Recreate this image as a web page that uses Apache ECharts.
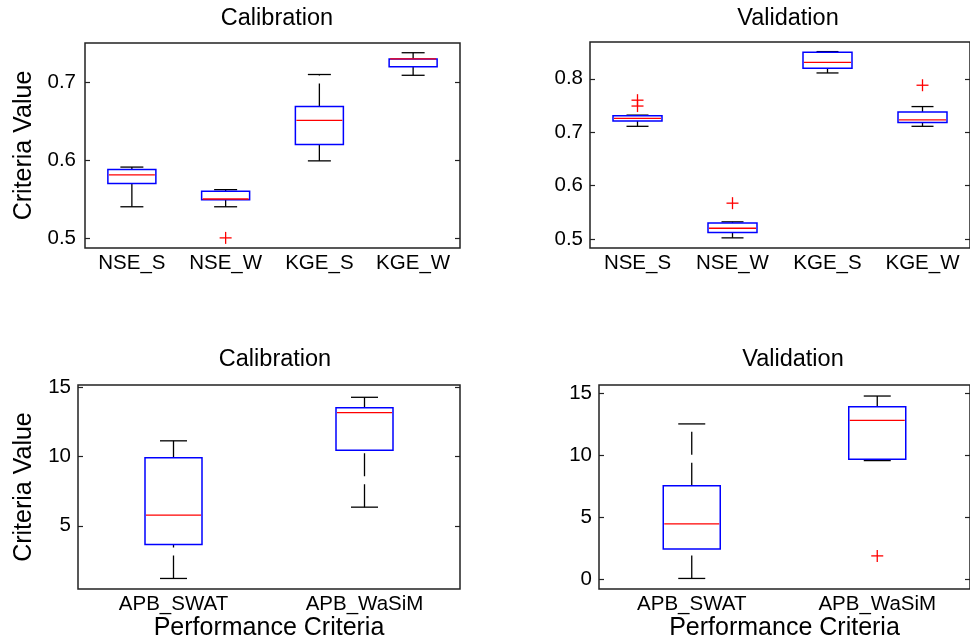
<!DOCTYPE html>
<html>
<head>
<meta charset="utf-8">
<script src="https://cdn.jsdelivr.net/npm/echarts@6/dist/echarts.min.js"></script>
<style>
  html, body { margin: 0; padding: 0; background: #fff; }
  #chart { width: 970px; height: 642px; }
</style>
</head>
<body>
<div id="chart"></div>
<script>
// categories
const nseKgeCats = ['NSE_S', 'NSE_W', 'KGE_S', 'KGE_W'];
const apbCats = ['APB_SWAT', 'APB_WaSiM'];

// box stats: [lower whisker, q1, median, q3, upper whisker]
const calNseKge = [
  [0.540, 0.570, 0.581, 0.588, 0.591],
  [0.540, 0.549, 0.550, 0.560, 0.562],
  [0.599, 0.620, 0.651, 0.669, 0.710],
  [0.709, 0.720, 0.730, 0.730, 0.738]
];
const calNseKgeOut = [[1, 0.500]];

const valNseKge = [
  [0.711, 0.721, 0.726, 0.731, 0.732],
  [0.502, 0.512, 0.520, 0.530, 0.532],
  [0.811, 0.820, 0.831, 0.850, 0.851],
  [0.711, 0.718, 0.723, 0.738, 0.748]
];
const valNseKgeOut = [[0, 0.749], [0, 0.760], [1, 0.567], [3, 0.788]];

const calApb = [
  [1.19, 3.65, 5.77, 9.93, 11.15],
  [6.35, 10.47, 13.19, 13.55, 14.30]
];
const calApbOut = [];

const valApb = [
  [0.06, 2.44, 4.47, 7.54, 12.53],
  [9.57, 9.68, 12.82, 13.92, 14.78]
];
const valApbOut = [[1, 1.88]];

// tick labels
const nseCalTicks = [0.5, 0.6, 0.7];
const nseValTicks = [0.5, 0.6, 0.7, 0.8];
const apbCalTicks = [5, 10, 15];
const apbValTicks = [0, 5, 10, 15];

const FONT = 'Liberation Sans, Arial, sans-serif';

function boxSeries(gi, stats, boxW, capW) {
  return {
    type: 'custom',
    xAxisIndex: gi,
    yAxisIndex: gi * 2,
    data: stats.map((s, i) => [i].concat(s)),
    encode: { x: 0, y: [1, 2, 3, 4, 5] },
    renderItem: function (params, api) {
      const i = api.value(0);
      const x = api.coord([i, 0])[0];
      const y = k => api.coord([i, api.value(k)])[1];
      const yLo = y(1), yQ1 = y(2), yMed = y(3), yQ3 = y(4), yHi = y(5);
      // whiskers are drawn bottom-up, like the original dashed lines
      const dash = { stroke: '#000', lineWidth: 1.3, lineDash: [23, 8] };
      const solid = { stroke: '#000', lineWidth: 1.3 };
      return {
        type: 'group',
        children: [
          { type: 'line', shape: { x1: x, y1: yLo, x2: x, y2: yQ1 }, style: dash },
          { type: 'line', shape: { x1: x, y1: yQ3, x2: x, y2: yHi }, style: dash },
          { type: 'line', shape: { x1: x - capW / 2, y1: yLo, x2: x + capW / 2, y2: yLo }, style: solid },
          { type: 'line', shape: { x1: x - capW / 2, y1: yHi, x2: x + capW / 2, y2: yHi }, style: solid },
          { type: 'rect', shape: { x: x - boxW / 2, y: yQ3, width: boxW, height: yQ1 - yQ3 },
            style: { fill: 'none', stroke: '#0000ff', lineWidth: 1.5 } },
          { type: 'line', shape: { x1: x - boxW / 2 + 1, y1: yMed, x2: x + boxW / 2 - 1, y2: yMed },
            style: { stroke: '#ff0000', lineWidth: 1.3 } }
        ]
      };
    }
  };
}

function outlierSeries(gi, pts) {
  return {
    type: 'custom',
    xAxisIndex: gi,
    yAxisIndex: gi * 2,
    data: pts,
    encode: { x: 0, y: 1 },
    renderItem: function (params, api) {
      const p = api.coord([api.value(0), api.value(1)]);
      const h = 6;
      const st = { stroke: '#ff0000', lineWidth: 1.3 };
      return {
        type: 'group',
        children: [
          { type: 'line', shape: { x1: p[0] - h, y1: p[1], x2: p[0] + h, y2: p[1] }, style: st },
          { type: 'line', shape: { x1: p[0], y1: p[1] - h, x2: p[0], y2: p[1] + h }, style: st }
        ]
      };
    }
  };
}

function xAx(gi, cats, name) {
  return {
    type: 'category', gridIndex: gi, data: cats,
    axisLine: { show: false }, axisTick: { show: false }, splitLine: { show: false },
    axisLabel: { interval: 0, fontSize: 20.5, color: '#000', fontFamily: FONT, margin: 5 },
    name: name || '', nameLocation: 'middle', nameGap: 24,
    nameTextStyle: { fontSize: 25, color: '#000', fontFamily: FONT }
  };
}

function yAxes(gi, min, max, ticks, name, labelMargin, nameGap) {
  const common = {
    type: 'value', gridIndex: gi, min: min, max: max,
    axisLine: { show: false }, splitLine: { show: false },
    axisTick: { show: true, inside: true, length: 5, customValues: ticks,
      lineStyle: { color: '#222', width: 1.2 } }
  };
  return [
    Object.assign({}, common, {
      position: 'left',
      axisLabel: { customValues: ticks, fontSize: 20.5, color: '#000', fontFamily: FONT, margin: labelMargin },
      name: name || '', nameLocation: 'middle', nameGap: nameGap,
      nameTextStyle: { fontSize: 25, color: '#000', fontFamily: FONT }
    }),
    Object.assign({}, common, { position: 'right', axisLabel: { show: false } })
  ];
}

const gridStyle = { show: true, borderColor: '#222', borderWidth: 1.5, backgroundColor: 'transparent' };
const titleStyle = { fontSize: 23.5, fontWeight: 'normal', color: '#000', fontFamily: FONT };

const option = {
  backgroundColor: '#fff',
  animation: false,
  title: [
    { text: 'Calibration', left: 272, top: 2, textAlign: 'center', textStyle: titleStyle },
    { text: 'Validation', left: 783, top: 2, textAlign: 'center', textStyle: titleStyle },
    { text: 'Calibration', left: 270, top: 343, textAlign: 'center', textStyle: titleStyle },
    { text: 'Validation', left: 788, top: 343, textAlign: 'center', textStyle: titleStyle }
  ],
  grid: [
    Object.assign({ left: 85, top: 43, width: 375, height: 205 }, gridStyle),
    Object.assign({ left: 590, top: 42, width: 390, height: 206 }, gridStyle),
    Object.assign({ left: 78, top: 385, width: 382, height: 206 }, gridStyle),
    Object.assign({ left: 599, top: 385, width: 383, height: 206 }, gridStyle)
  ],
  xAxis: [
    xAx(0, nseKgeCats),
    xAx(1, nseKgeCats),
    xAx(2, apbCats, 'Performance Criteria'),
    xAx(3, apbCats, 'Performance Criteria')
  ],
  yAxis: [].concat(
    yAxes(0, 0.487, 0.7505, nseCalTicks, 'Criteria Value', 9, 48),
    yAxes(1, 0.483, 0.869, nseValTicks, '', 7, 40),
    yAxes(2, 0.42, 15.19, apbCalTicks, 'Criteria Value', 7, 41),
    yAxes(3, -0.8, 15.67, apbValTicks, '', 7, 40)
  ),
  series: [
    boxSeries(0, calNseKge, 48, 23),
    outlierSeries(0, calNseKgeOut),
    boxSeries(1, valNseKge, 49, 22),
    outlierSeries(1, valNseKgeOut),
    boxSeries(2, calApb, 57, 27),
    outlierSeries(2, calApbOut),
    boxSeries(3, valApb, 57, 27),
    outlierSeries(3, valApbOut)
  ]
};

const chart = echarts.init(document.getElementById('chart'), null, { renderer: 'canvas' });
chart.setOption(option);
</script>
</body>
</html>
